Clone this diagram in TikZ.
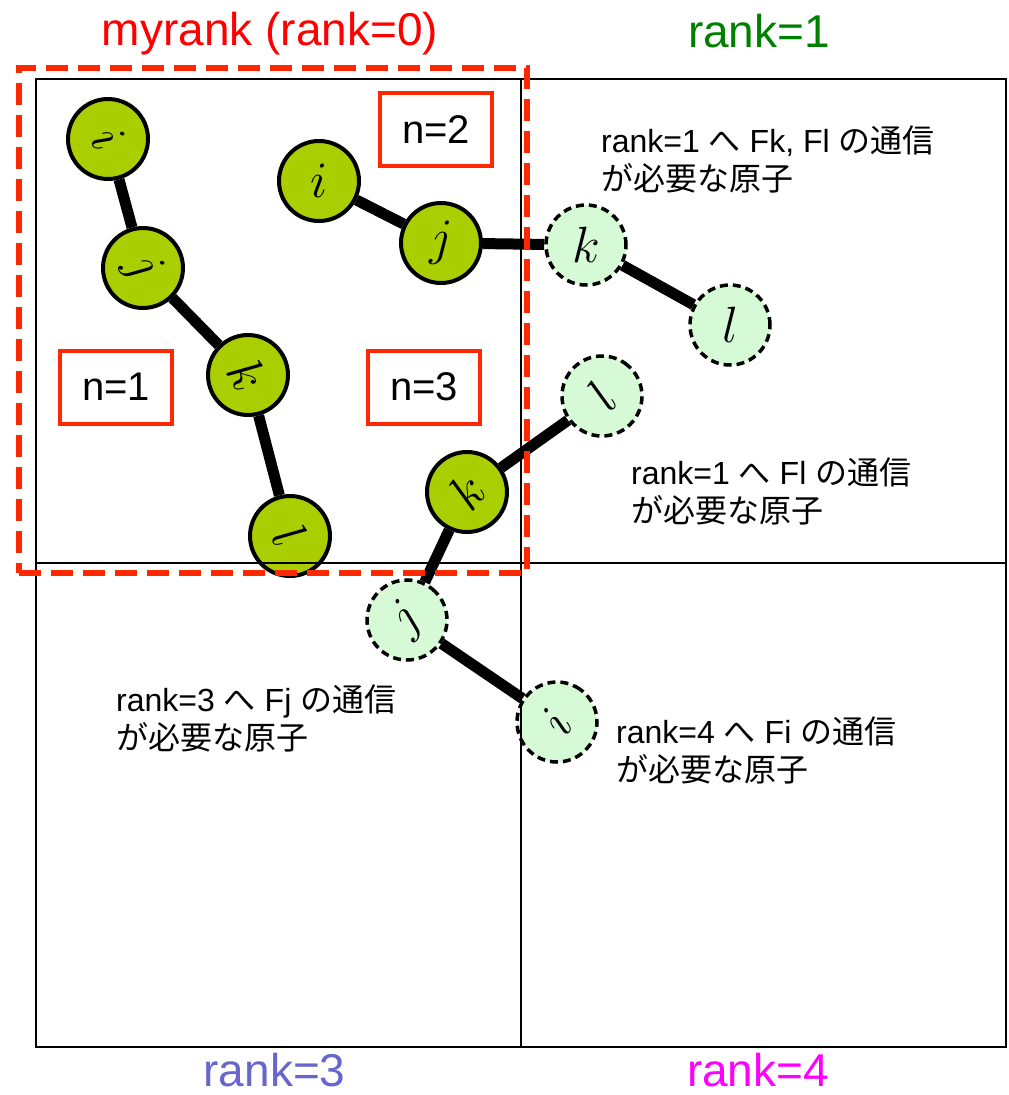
\documentclass[tikz,border=0pt]{standalone}
\usepackage{graphicx}
\usepackage{fontspec}
\setmainfont{Liberation Sans}
\newfontfamily\jp{Noto Sans CJK JP}
\usetikzlibrary{positioning}

\definecolor{atomgreen}{RGB}{170,206,0}
\definecolor{ghostgreen}{RGB}{214,249,214}
\definecolor{boxred}{RGB}{255,40,0}
\definecolor{rankred}{RGB}{255,0,0}
\definecolor{rankgreen}{RGB}{0,128,0}
\definecolor{rankblue}{RGB}{102,102,204}
\definecolor{rankpink}{RGB}{255,0,255}

\newcommand{\atomname}[1]{\scalebox{2.05}{$#1$}}

\begin{document}
\begin{tikzpicture}[x=1pt, y=-1pt,
    atom/.style={draw, circle, line width=4pt, fill=atomgreen, minimum size=80pt, inner sep=0pt, font=\fontsize{24.88}{25}\selectfont},
    ghost/.style={atom, fill=ghostgreen, line width=3.5pt, dash pattern=on 8pt off 5pt},
    bond/.style={line width=11pt},
    nbox/.style={draw=boxred, line width=4pt, minimum width=112pt, minimum height=73pt, font=\fontsize{40}{40}\selectfont},
    cell/.style={draw, line width=2pt, minimum width=485pt, minimum height=484pt},
    note/.style={anchor=west, align=left, inner sep=0pt, font=\fontsize{32}{38}\selectfont},
    ranklabel/.style={anchor=base, inner sep=0pt, font=\fontsize{46}{46}\selectfont}]
        \useasboundingbox (0,0) rectangle (1009,1095);

        % Molecule 1 (all in rank 0)
        \node[atom, rotate=-60] (p1i) at (108,139) {\atomname{i}};
        \node[atom, rotate=-60] (p1j) at (143,268) {\atomname{j}};
        \node[atom, rotate=-60] (p1k) at (248,375) {\atomname{k}};
        \node[atom, rotate=-60] (p1l) at (290,536) {\atomname{l}};
        \draw[bond] (p1i) -- (p1j) -- (p1k) -- (p1l);

        % Molecule 2
        \node[atom] (p2i) at (319,181) {\atomname{i}};
        \node[atom] (p2j) at (441,243) {\atomname{j}};
        \node[ghost] (p2k) at (586,245) {\atomname{k}};
        \node[ghost] (p2l) at (730,325) {\atomname{l}};
        \draw[bond] (p2i) -- (p2j) -- (p2k) -- (p2l);

        % Molecule 3
        \node[ghost, rotate=50] (p3l) at (602,396) {\atomname{l}};
        \node[atom, rotate=50] (p3k) at (467,492) {\atomname{k}};
        \node[ghost, rotate=45] (p3j) at (407,620) {\atomname{j}};
        \node[ghost, rotate=55] (p3i) at (557,722) {\atomname{i}};
        \draw[bond] (p3l) -- (p3k) -- (p3j) -- (p3i);

        % Domains
        \node[cell] (rank0) at (278.5,321) {};
        \node[cell] (rank1) at (763,321) {};
        \node[cell] (rank3) at (278.5,805) {};
        \node[cell] (rank4) at (763,805) {};

        % Own domain
        \node[draw=boxred, line width=6pt, dash pattern=on 22pt off 10pt, minimum width=508pt, minimum height=505pt] (myrank) at (273,320.5) {};

        % Molecule numbers
        \node[nbox] (n1) at (116,387) {n=1};
        \node[nbox] (n2) at (436,129.5) {n=2};
        \node[nbox] (n3) at (424,387) {n=3};

        % Rank labels
        \node[ranklabel, text=rankred] (lab0) at ([xshift=-3pt, yshift=20pt]myrank.north) {myrank (rank=0)};
        \node[ranklabel, text=rankgreen] (lab1) at ([xshift=-4pt, yshift=31pt]rank1.north) {rank=1};
        \node[ranklabel, text=rankblue] (lab3) at ([xshift=-4pt, yshift=-38pt]rank3.south) {rank=3};
        \node[ranklabel, text=rankpink] (lab4) at ([xshift=-5pt, yshift=-38pt]rank4.south) {rank=4};

        % Communication notes
        \node[note] (note1) at (601,159) {rank=1 {\jp へ} Fk, Fl {\jp の通信}\\{\jp が必要な原子}};
        \node[note] (note2) at (631,491) {rank=1 {\jp へ} Fl {\jp の通信}\\{\jp が必要な原子}};
        \node[note] (note3) at (116,718) {rank=3 {\jp へ} Fj {\jp の通信}\\{\jp が必要な原子}};
        \node[note] (note4) at (616,750) {rank=4 {\jp へ} Fi {\jp の通信}\\{\jp が必要な原子}};

    \end{tikzpicture}
\end{document}
